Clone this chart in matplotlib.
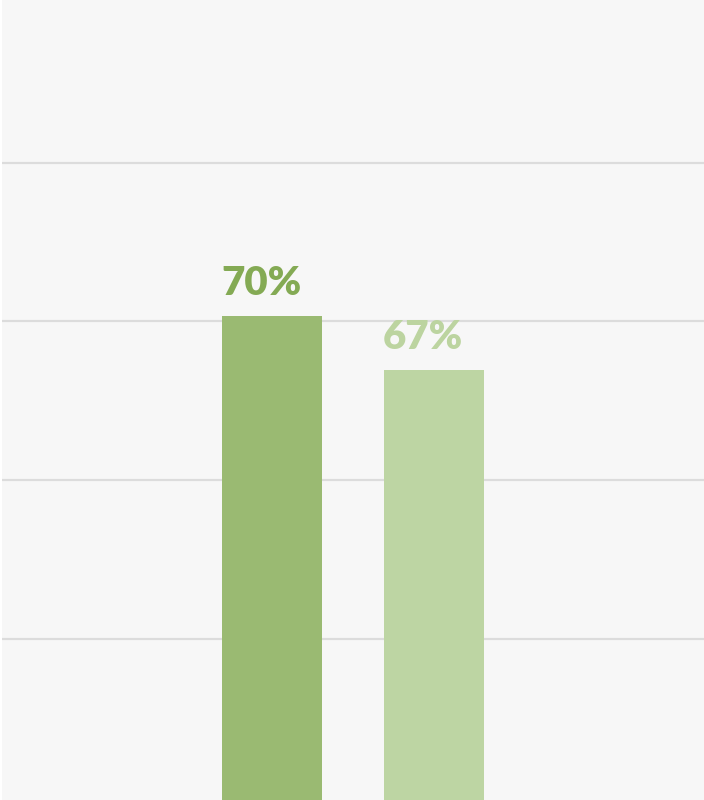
import numpy as np
import matplotlib
matplotlib.use("Agg")
import matplotlib.pyplot as plt

# data
categories = ["A", "B"]
values = [70, 67]
labels = ["70%", "67%"]
bar_colors = ["#9aba72", "#bdd5a3"]
label_colors = ["#84aa54", "#bcd4a0"]
grid_ticks = [52.05, 60.9, 69.75, 78.55]


def main():
    fig = plt.figure(figsize=(7.04, 8.0), dpi=100, facecolor="white")
    ax = fig.add_axes([2 / 704, 0, 702 / 704, 1])
    ax.set_facecolor("#f7f7f7")

    x = np.arange(len(categories))
    width = 0.617
    ax.bar(x, values, width=width, color=bar_colors, zorder=3)

    for xi, v, lab, c in zip(x, values, labels, label_colors):
        ax.text(xi - width / 2 - 0.005, v + 1.17, lab, color=c, fontsize=29,
                fontweight="heavy", family=["Lato", "DejaVu Sans"],
                ha="left", va="baseline", zorder=4)

    ax.set_xlim(-1.667, 2.667)
    ax.set_ylim(43.1, 87.6)
    ax.set_yticks(grid_ticks)
    ax.yaxis.grid(True, color="#dcdcdc", linewidth=1.6, zorder=1)
    ax.tick_params(left=False, bottom=False, labelleft=False, labelbottom=False)
    for s in ax.spines.values():
        s.set_visible(False)

    fig.savefig("out.png", dpi=100, facecolor=fig.get_facecolor())


if __name__ == "__main__":
    main()
